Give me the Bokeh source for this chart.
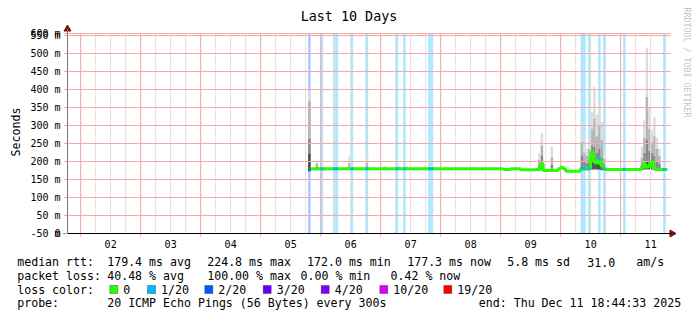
import numpy as np
import pandas as pd
from bokeh.plotting import figure
from bokeh.models import Range1d, FixedTicker, DatetimeTickFormatter, Label, BoxAnnotation
from bokeh.embed import file_html
from bokeh.resources import INLINE

FONT = "DejaVu Sans Mono"

# ---------------- data ----------------
start_time = "2025-12-01 18:44:33"
end_time = "2025-12-11 18:44:33"

x_tick_dates = ["2025-12-02 12:00", "2025-12-03 12:00", "2025-12-04 12:00", "2025-12-05 12:00",
                "2025-12-06 12:00", "2025-12-07 12:00", "2025-12-08 12:00", "2025-12-09 12:00",
                "2025-12-10 12:00", "2025-12-11 12:00"]

y_top_ms = 555.6
y_tick_values = [0, 0.01, 50, 100, 150, 200, 250, 300, 350, 400, 450, 500, 550, 555.6]
y_tick_labels = ["-50 m", "0", "50 m", "100 m", "150 m", "200 m", "250 m", "300 m",
                 "350 m", "400 m", "450 m", "500 m", "550 m", "600 m"]

# median rtt (ms), hourly values given at the hours where they change
median_times = ["2025-12-05 19:00", "2025-12-05 20:00", "2025-12-09 01:00", "2025-12-09 04:00",
                "2025-12-09 08:00", "2025-12-09 14:00", "2025-12-09 16:00", "2025-12-09 17:00",
                "2025-12-09 23:00", "2025-12-10 00:00", "2025-12-10 01:00", "2025-12-10 02:00",
                "2025-12-10 08:00", "2025-12-10 12:00", "2025-12-10 13:00", "2025-12-10 14:00",
                "2025-12-10 15:00", "2025-12-10 16:00", "2025-12-10 17:00", "2025-12-10 18:00",
                "2025-12-11 08:00", "2025-12-11 09:00", "2025-12-11 10:00", "2025-12-11 11:00",
                "2025-12-11 12:00", "2025-12-11 13:00", "2025-12-11 14:00"]
median_ms = [177, 180, 178, 180,
             177, 178, 194, 175,
             180, 184, 180, 173,
             181, 226, 203, 196,
             207, 190, 180, 178,
             181, 194, 184, 189,
             199, 181, 178]

# hours with packet loss (pings lost out of 20)
loss_times = ["2025-12-05 19:00", "2025-12-06 00:00", "2025-12-06 05:00", "2025-12-06 06:00",
              "2025-12-06 12:00", "2025-12-06 18:00", "2025-12-07 06:00", "2025-12-07 09:00",
              "2025-12-07 19:00", "2025-12-07 20:00", "2025-12-10 08:00", "2025-12-10 09:00",
              "2025-12-10 11:00", "2025-12-10 15:00", "2025-12-10 17:00", "2025-12-11 01:00",
              "2025-12-11 17:00"]
loss_counts = [2, 1, 1, 1, 1, 1, 1, 1, 1, 1, 1, 1, 1, 1, 1, 1, 1]

loss_classes = [0, 1, 2, 3, 4, 10, 19]
loss_class_labels = ["0", "1/20", "2/20", "3/20", "4/20", "10/20", "19/20"]
loss_class_colors = ["#26ff00", "#00b8ff", "#0059ff", "#5e00ff", "#7e00ff", "#dd00ff", "#ff0000"]

# smoke (ping spread, ms): bottom, three inner band edges, top
smoke_times = ["2025-12-05 19:00", "2025-12-05 22:00", "2025-12-06 01:00", "2025-12-06 11:00",
               "2025-12-06 18:00", "2025-12-07 01:00", "2025-12-07 07:00", "2025-12-07 10:00",
               "2025-12-07 17:00", "2025-12-08 13:00",
               "2025-12-09 15:00", "2025-12-09 16:00", "2025-12-09 20:00",
               "2025-12-10 08:00", "2025-12-10 09:00", "2025-12-10 10:00", "2025-12-10 11:00",
               "2025-12-10 12:00", "2025-12-10 13:00", "2025-12-10 14:00", "2025-12-10 15:00",
               "2025-12-10 16:00", "2025-12-10 17:00",
               "2025-12-11 08:00", "2025-12-11 09:00", "2025-12-11 10:00", "2025-12-11 11:00",
               "2025-12-11 12:00", "2025-12-11 13:00", "2025-12-11 14:00", "2025-12-11 15:00"]
smoke_lo = [174, 176, 176, 177, 177, 177, 177, 177, 177, 177,
            176, 178, 176,
            176, 176, 176, 176, 178, 178, 178, 178, 176, 176,
            176, 178, 178, 178, 178, 176, 176, 176]
smoke_b1 = [222, 181, 178, 180, 180, 179, 179, 179, 179, 179,
            180, 195, 180,
            183, 182, 182, 183, 205, 195, 195, 200, 185, 180,
            180, 190, 200, 195, 200, 185, 182, 180]
smoke_b2 = [264, 186, 180, 186, 186, 181, 182, 182, 181, 181,
            190, 215, 192,
            215, 200, 195, 205, 245, 240, 225, 235, 210, 193,
            190, 225, 260, 230, 225, 215, 200, 195]
smoke_b3 = [369, 193, 183, 196, 197, 184, 185, 185, 184, 183,
            205, 245, 212,
            255, 225, 215, 235, 290, 320, 270, 300, 260, 208,
            210, 265, 380, 290, 255, 270, 235, 215]
smoke_hi = [397, 201, 186, 214, 217, 187, 188, 188, 187, 186,
            223, 279, 242,
            305, 250, 235, 265, 337, 408, 330, 369, 309, 225,
            240, 314, 517, 351, 286, 323, 267, 236]

stats_rtt = ["median rtt:", "179.4 ms avg", "224.8 ms max", "172.0 ms min", "177.3 ms now",
             "5.8 ms sd", "31.0", "am/s"]
stats_loss = ["packet loss:", "40.48 % avg", "100.00 % max", "0.00 % min", "0.42 % now"]
probe_text = ["probe:", "20 ICMP Echo Pings (56 Bytes) every 300s",
              "end: Thu Dec 11 18:44:33 2025"]

# ---------------- geometry ----------------
HOUR = 3600 * 1000.0
W, H = 697, 321
AX_L, AX_R, AX_T, AX_B = 67, 667, 33, 233        # plot area in canvas px
PX_T = 10 * 86400 * 1000.0 / (AX_R - AX_L)       # ms of time per pixel
PX_Y = (AX_B - AX_T) / y_top_ms                  # pixels per ms of rtt


def ms(lst):
    return (pd.to_datetime(lst).asi8 // 10**6).astype(float)


def sx(cx):
    return cx


def sy(cy):
    return H - cy


t0 = float(pd.Timestamp(start_time).value // 10**6)
t1 = float(pd.Timestamp(end_time).value // 10**6)

p = figure(width=W, height=H, x_axis_type="datetime", title=None,
           x_range=Range1d(t0 - AX_L * PX_T, t1 + (W - AX_R) * PX_T),
           y_range=Range1d(-(H - AX_B) / PX_Y, AX_B / PX_Y),
           output_backend="svg", toolbar_location=None,
           min_border_left=0, min_border_right=0, min_border_top=0, min_border_bottom=0)
p.background_fill_color = "white"
p.border_fill_color = "white"
p.outline_line_color = None
p.xgrid.visible = False
p.ygrid.visible = False

# loss bars (background)
lt = ms(loss_times)
lc = [loss_class_colors[loss_classes.index(c)] for c in loss_counts]
p.quad(left=lt, right=lt + HOUR, bottom=0, top=y_top_ms, fill_color=lc, fill_alpha=0.33,
       line_color=None)

# smoke
st = ms(smoke_times)
bands = [(smoke_lo, smoke_b1, "#4a4a4a"), (smoke_b1, smoke_b2, "#878787"),
         (smoke_b2, smoke_b3, "#b4b4b4"), (smoke_b3, smoke_hi, "#dddddd")]
for lo, hi, col in bands:
    p.quad(left=st, right=st + HOUR, bottom=lo, top=hi, fill_color=col, line_color=None)

# grid lines
six_h = [v for v in ms(pd.date_range("2025-12-01 00:00", "2025-12-12 00:00", freq="6h"))
         if t0 < v < t1]
midn = [v for v in ms(pd.date_range("2025-12-01 00:00", "2025-12-12 00:00", freq="D"))
        if t0 < v < t1]
p.segment(x0=six_h, x1=six_h, y0=0, y1=y_top_ms, line_color="#e0e0e0", line_width=1)
p.segment(x0=midn, x1=midn, y0=-3 / PX_Y, y1=y_top_ms, line_color="#f2aaaa", line_width=1)
ygrid_vals = [v for v in y_tick_values if v != 0.01]
p.segment(x0=t0 - 3 * PX_T, x1=t1 + 3 * PX_T, y0=ygrid_vals, y1=ygrid_vals,
          line_color="#f2aaaa", line_width=1)

# median line
mt = ms(median_times)
p.step(x=list(mt) + [t1], y=median_ms + [median_ms[-1]], mode="after",
       line_color=loss_class_colors[0], line_width=3)
idx = np.searchsorted(mt, lt, side="right") - 1
lm = [median_ms[i] for i in idx]
p.segment(x0=lt, x1=lt + HOUR, y0=lm, y1=lm, line_color=lc, line_width=3)

# axes (drawn at the data origin)
xa = p.xaxis[0]
xa.fixed_location = 0
xa.ticker = FixedTicker(ticks=list(ms(x_tick_dates)))
fmt = "%d"
xa.formatter = DatetimeTickFormatter(microseconds=fmt, milliseconds=fmt, seconds=fmt, minsec=fmt,
                                     minutes=fmt, hourmin=fmt, hours=fmt, days=fmt,
                                     months=fmt, years=fmt)
xa.bounds = (t0 - 4 * PX_T, t1 + 4 * PX_T)
xa.major_tick_out = 0
xa.major_tick_in = 0
xa.minor_tick_line_color = None
xa.axis_line_color = "black"
xa.major_label_standoff = 6
xa.major_label_text_font = FONT
xa.major_label_text_font_size = "10px"
xa.major_label_text_color = "black"

ya = p.yaxis[0]
ya.fixed_location = t0
ya.bounds = (0, (AX_B - 28) / PX_Y)
ya.ticker = FixedTicker(ticks=y_tick_values)
ya.major_label_overrides = {v: s for v, s in zip(y_tick_values, y_tick_labels)}
ya.major_tick_out = 3
ya.major_tick_in = 0
ya.major_tick_line_color = "#d8a8a8"
ya.minor_tick_line_color = None
ya.axis_line_color = "#777777"
ya.major_label_standoff = 4
ya.major_label_text_font = FONT
ya.major_label_text_font_size = "10px"
ya.major_label_text_color = "black"

# arrow heads at the axis ends
p.scatter(x=[t0], y=[(AX_B - 28.5) / PX_Y], marker="triangle", size=7,
          fill_color="#7f1010", line_color="#7f1010")
p.scatter(x=[t1 + 4.5 * PX_T], y=[0], marker="triangle", size=7, angle=-np.pi / 2,
          fill_color="#7f1010", line_color="#7f1010")


def label(cx, cy, text, size="11.6px", align="left", angle=0.0, color="black"):
    p.add_layout(Label(x=sx(cx), y=sy(cy), x_units="screen", y_units="screen", text=text,
                       text_font=FONT, text_font_size=size, text_align=align,
                       text_baseline="middle", angle=angle, text_color=color))


label(348.5, 16, "Last 10 Days", size="13.4px", align="center")
label(15, 131.5, "Seconds", align="center", angle=np.pi / 2)
label(686.5, 7, "RRDTOOL / TOBI OETIKER", size="8.3px", angle=-np.pi / 2, color="#c4c4c4")

# ---------------- legend ----------------
rtt_x = [16.7, 106.7, 206.7, 306.5, 406.7, 506.7, 586.7, 635.7]
for x, t in zip(rtt_x, stats_rtt):
    label(x, 261.7, t)
loss_x = [16.7, 106.7, 206.7, 300, 390]
for x, t in zip(loss_x, stats_loss):
    label(x, 275, t)
label(16.7, 289.3, "loss color:")
sw_x = [109.3, 147, 204.3, 262.7, 320.7, 379.3, 443.3]
for x, t, c in zip(sw_x, loss_class_labels, loss_class_colors):
    p.add_layout(BoxAnnotation(left=sx(x), right=sx(x + 8), top=sy(285), bottom=sy(293),
                               left_units="screen", right_units="screen",
                               top_units="screen", bottom_units="screen",
                               fill_color=c, fill_alpha=1, line_color="black", line_width=1))
    label(x + 13.5, 289.3, t)
probe_x = [16.7, 106.7, 478.3]
for x, t in zip(probe_x, probe_text):
    label(x, 302.7, t)

open("out.html", "w").write(file_html(p, INLINE))
